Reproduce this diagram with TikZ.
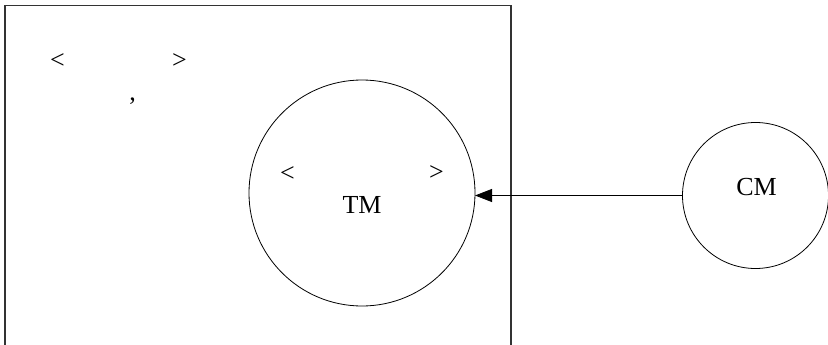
\documentclass[tikz,border=0pt]{standalone}
\usepackage{fontspec}
\setmainfont{Liberation Serif}
\usetikzlibrary{arrows.meta}
\begin{document}
\begin{tikzpicture}[x=1pt,y=-1pt,
  lbl/.style={inner sep=0pt,outer sep=0pt,font=\fontsize{26}{30}\selectfont},
  ring/.style={circle,draw=black,line width=0.8pt,inner sep=0pt,outer sep=0pt},
  frame/.style={draw=black!80,line width=1.1pt}]
\useasboundingbox (0,0) rectangle (828,345);
\clip (0,0) rectangle (828,345);
\draw[frame] (5,370) -- (5,5.5) -- (511,5.5) -- (511,370);
\node[lbl] (lt) at (57.5,61.5) {<};
\node[lbl] (gt) at (179.5,61.5) {>};
\node[lbl] (cm1) at (132.5,101) {,};
\node[ring,minimum size=226pt] (TM) at (362,193) {};
\node[lbl] (lt2) at (287.5,174) {<};
\node[lbl] (gt2) at (436.5,173.5) {>};
\node[lbl] (tmt) at (362,204.5) {TM};
\node[ring,minimum size=146pt] (CM) at (755.5,195.5) {};
\node[lbl] (cmt) at (756.5,187.5) {CM};
\draw[line width=0.8pt,-{Triangle[length=17pt,width=13pt]}] (CM.west) -- (CM.west -| TM.east);
\end{tikzpicture}
\end{document}
